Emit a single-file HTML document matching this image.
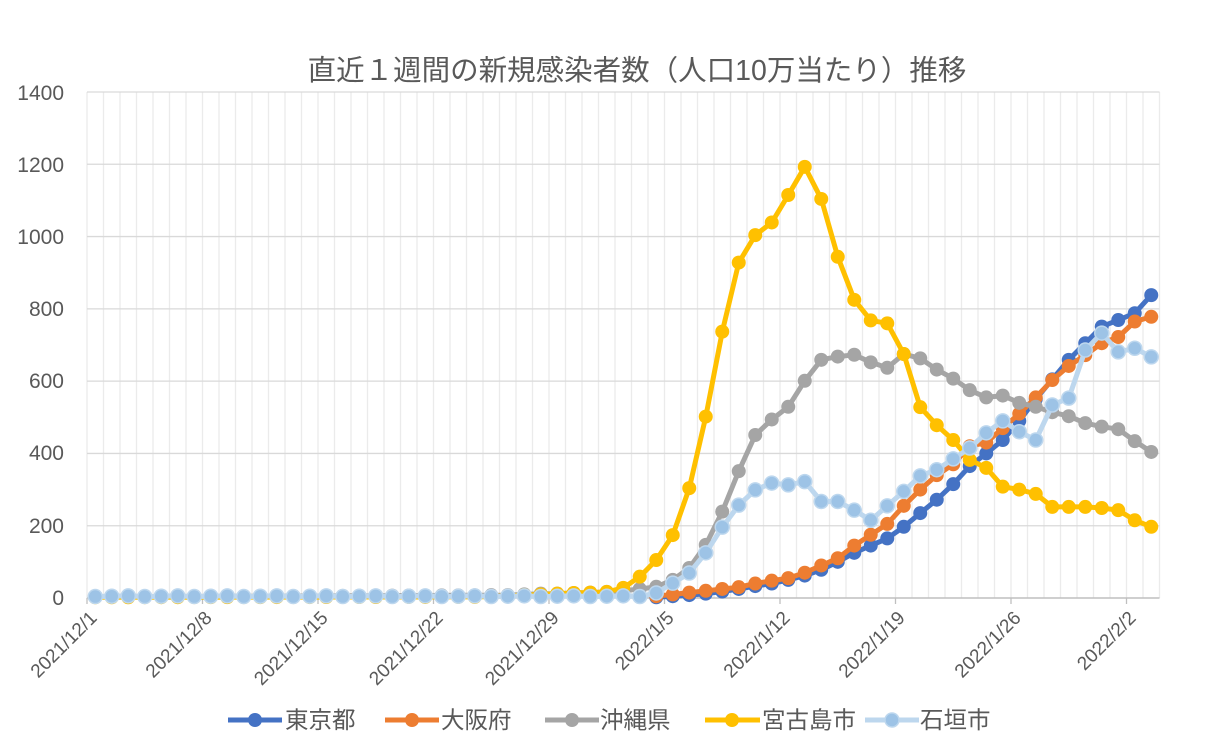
<!DOCTYPE html>
<html><head><meta charset="utf-8">
<style>
html,body{margin:0;padding:0;background:#fff;}
svg{display:block;font-family:"Liberation Sans","Noto Sans CJK JP",sans-serif;}
</style></head>
<body>
<svg id="c" width="1224" height="746" xmlns="http://www.w3.org/2000/svg">
<rect width="1224" height="746" fill="#fff"/>
<g id="grid"></g>
<text x="637" y="80" text-anchor="middle" font-size="28.5" fill="#595959">直近１週間の新規感染者数（人口10万当たり）推移</text>
<g font-size="21" fill="#595959" text-anchor="end">
<text x="64" y="605">0</text>
<text x="64" y="533">200</text>
<text x="64" y="460">400</text>
<text x="64" y="388">600</text>
<text x="64" y="316">800</text>
<text x="64" y="244">1000</text>
<text x="64" y="172">1200</text>
<text x="64" y="100">1400</text>
</g>
<g font-size="19" fill="#595959" text-anchor="end">
<text transform="translate(98,619) rotate(-45)">2021/12/1</text>
<text transform="translate(213,619) rotate(-45)">2021/12/8</text>
<text transform="translate(329,619) rotate(-45)">2021/12/15</text>
<text transform="translate(444,619) rotate(-45)">2021/12/22</text>
<text transform="translate(560,619) rotate(-45)">2021/12/29</text>
<text transform="translate(675,619) rotate(-45)">2022/1/5</text>
<text transform="translate(791,619) rotate(-45)">2022/1/12</text>
<text transform="translate(906,619) rotate(-45)">2022/1/19</text>
<text transform="translate(1022,619) rotate(-45)">2022/1/26</text>
<text transform="translate(1137,619) rotate(-45)">2022/2/2</text>
</g>
<g id="series"></g>
<g font-size="23.5" fill="#595959">
<line x1="228" y1="720" x2="282" y2="720" stroke="#4472C4" stroke-width="5"/><circle cx="255" cy="720" r="7" fill="#4472C4"/>
<text x="285" y="728">東京都</text>
<line x1="385" y1="720" x2="439" y2="720" stroke="#ED7D31" stroke-width="5"/><circle cx="412" cy="720" r="7" fill="#ED7D31"/>
<text x="441" y="728">大阪府</text>
<line x1="545" y1="720" x2="599" y2="720" stroke="#A5A5A5" stroke-width="5"/><circle cx="572" cy="720" r="7" fill="#A5A5A5"/>
<text x="600" y="728">沖縄県</text>
<line x1="705" y1="720" x2="760" y2="720" stroke="#FFC000" stroke-width="5"/><circle cx="732" cy="720" r="7" fill="#FFC000"/>
<text x="762" y="728">宮古島市</text>
<line x1="865" y1="720" x2="919" y2="720" stroke="#BDD7EE" stroke-width="5"/><circle cx="892" cy="720" r="7" fill="#9DC3E6" stroke="#BDD7EE" stroke-width="1.5"/>
<text x="920" y="728">石垣市</text>
</g>
</svg>
<script>
(function(){
var NS="http://www.w3.org/2000/svg";
function el(t,a,p){var e=document.createElementNS(NS,t);for(var k in a)e.setAttribute(k,a[k]);p.appendChild(e);return e;}
var g=document.getElementById("grid"), s=document.getElementById("series");
var L=87,R=1159.5,T=92,B=598,W=16.5;
function X(i){return L+W*(i+0.5);}
function Y(v){return B-v*(B-T)/1400;}
for(var k=0;k<=65;k++){el("line",{x1:L+W*k,y1:T,x2:L+W*k,y2:B,stroke:"#EBEBEB","stroke-width":1.3},g);}
for(var v=200;v<=1400;v+=200){el("line",{x1:L,y1:Y(v),x2:R,y2:Y(v),stroke:"#D9D9D9","stroke-width":1.3},g);}
el("line",{x1:L,y1:B,x2:R,y2:B,stroke:"#BFBFBF","stroke-width":1.5},g);
for(var k=0;k<=63;k+=7){el("line",{x1:L+W*k,y1:B,x2:L+W*k,y2:B+6,stroke:"#BFBFBF","stroke-width":1.3},g);}
function fill(n,a,b){var r=[];for(var i=0;i<n;i++)r.push(a+(b-a)*i/Math.max(1,n-1));return r;}
var blue=[2,5,8,12,18,25,33,40,50,62,78,100,125,145,165,197,235,272,315,365,400,437,490,550,605,659,705,751,769,788,838];
var orange=[5,10,15,20,25,30,40,48,55,70,90,110,145,175,205,255,300,340,370,420,430,470,510,555,603,642,672,705,722,765,778];
var gray=fill(26,3,8).concat([10,12,12,14,15,17,20,25,31,50,83,147,239,351,451,494,529,601,659,668,673,652,637,675,663,632,607,575,555,560,540,529,514,503,484,474,467,434,404]);
var yellow=fill(24,2,3).concat([4,6,8,10,12,14,15,17,28,59,105,174,304,502,737,928,1004,1039,1115,1193,1104,944,825,768,760,675,528,478,437,382,360,308,300,288,252,252,252,249,243,215,197]);
var lb=[];for(var i=0;i<34;i++)lb.push(4+(i%3));
lb=lb.concat([14,41,69,125,196,257,299,318,313,322,267,267,243,215,255,295,338,355,385,415,457,490,460,437,534,553,686,733,681,691,667]);
function draw(data,start,col,mfill,mstroke){
  var pts=data.map(function(v,j){return X(start+j).toFixed(1)+","+Y(v).toFixed(1);}).join(" ");
  el("polyline",{points:pts,fill:"none",stroke:col,"stroke-width":5,"stroke-linejoin":"round","stroke-linecap":"round"},s);
  data.forEach(function(v,j){var c=el("circle",{cx:X(start+j),cy:Y(v),r:7,fill:mfill},s);if(mstroke){c.setAttribute("stroke",mstroke);c.setAttribute("stroke-width",1.5);}});
}
draw(blue,34,"#4472C4","#4472C4");
draw(orange,34,"#ED7D31","#ED7D31");
draw(gray,0,"#A5A5A5","#A5A5A5");
draw(yellow,0,"#FFC000","#FFC000");
draw(lb,0,"#BDD7EE","#9DC3E6","#BDD7EE");
})();
</script>
</body></html>
